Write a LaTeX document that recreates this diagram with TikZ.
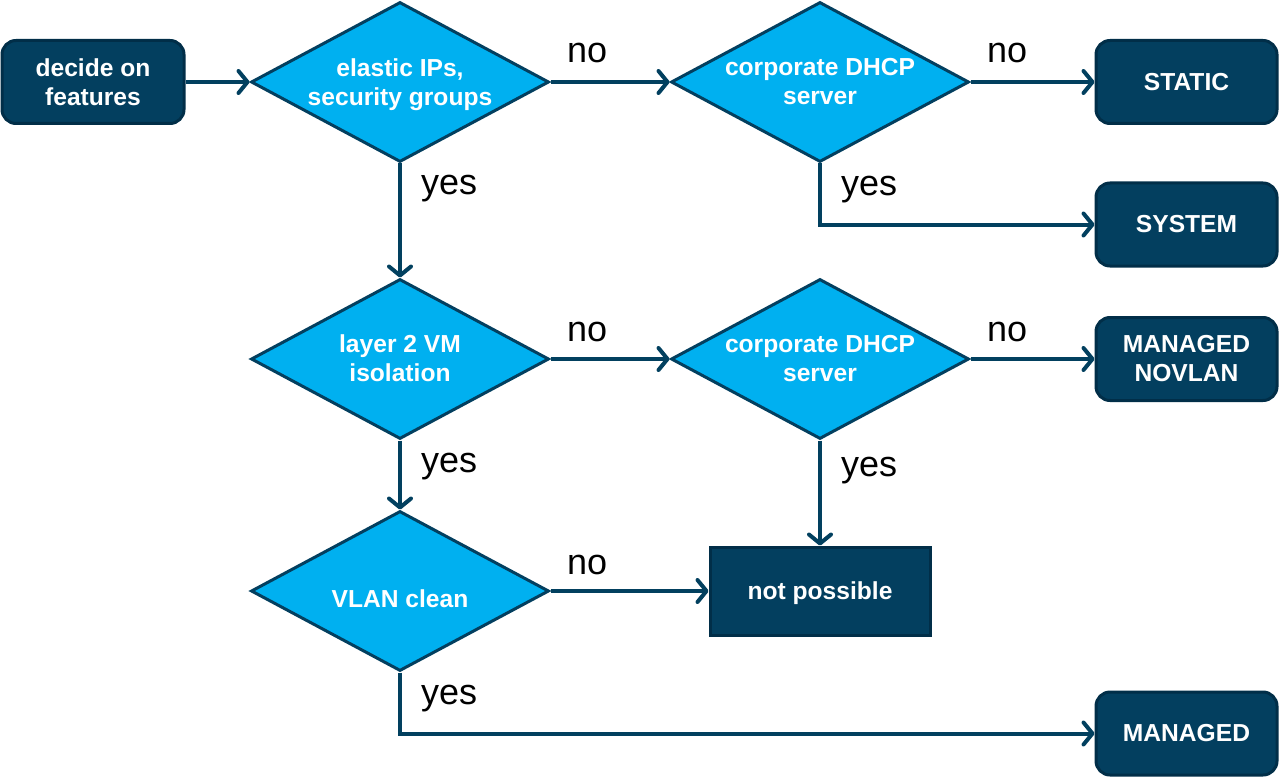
\documentclass[tikz,border=0pt]{standalone}
\usepackage{fontspec}
\setmainfont{Liberation Sans}
\usetikzlibrary{shapes.geometric,arrows.meta}
\definecolor{boxfill}{HTML}{033F5F}
\definecolor{boxline}{HTML}{012E48}
\definecolor{dfill}{HTML}{00B0F0}
\definecolor{dline}{HTML}{033F5F}
\definecolor{arrowc}{HTML}{02405F}
\newcommand{\lowr}[2]{\raisebox{-#1}[\height][\depth]{\begin{tabular}{@{}c@{}}#2\end{tabular}}}
\tikzset{
  boxnode/.style={draw=boxline, line width=3pt, fill=boxfill, text=white, rounded corners=14pt,
    font=\fontsize{24.6}{29}\selectfont\bfseries, align=center, inner sep=0pt},
  sqbox/.style={boxnode, rounded corners=0pt},
  decision/.style={diamond, draw=dline, line width=3pt, fill=dfill, text=white, aspect=1.86,
    minimum width=298pt, minimum height=160pt, inner sep=0pt,
    font=\fontsize{24.6}{29}\selectfont\bfseries, align=center},
  lbl/.style={font=\fontsize{36}{40}\selectfont, text=black, inner sep=0pt, anchor=base west},
  conn/.style={draw=arrowc, line width=4pt, -{Straight Barb[length=9pt,width=22pt,round]}}
}
\begin{document}
\begin{tikzpicture}[x=1pt,y=-1pt]
\useasboundingbox (0,0) rectangle (1279,778);
\node[boxnode, minimum width=182pt, minimum height=83pt] (start) at (93,82) {decide on\\features};
\node[decision] (d1) at (400,82) {\lowr{3pt}{elastic IPs,\\security groups}};
\node[decision] (d2) at (820,82) {corporate DHCP\\server};
\node[boxnode, minimum width=181pt, minimum height=83pt] (static) at (1186.5,82) {STATIC};
\node[boxnode, minimum width=181pt, minimum height=83pt] (system) at (1186.5,224.5) {SYSTEM};
\node[decision] (d3) at (400,359) {\lowr{2pt}{layer 2 VM\\isolation}};
\node[decision] (d4) at (820,359) {corporate DHCP\\server};
\node[boxnode, minimum width=181pt, minimum height=83pt] (novlan) at (1186.5,359) {MANAGED\\NOVLAN};
\node[decision] (d5) at (400,591) {\lowr{11pt}{VLAN clean}};
\node[sqbox, minimum width=220pt, minimum height=88pt] (np) at (820,591) {\lowr{3pt}{not possible}};
\node[boxnode, minimum width=181pt, minimum height=83pt] (managed) at (1186.5,733.5) {MANAGED};

\draw[conn] (start.east) -- (d1.west);
\draw[conn] (d1.east) -- (d2.west);
\draw[conn] (d2.east) -- (static.west);
\draw[conn] (d2.south) |- (system.west);
\draw[conn] (d1.south) -- (d3.north);
\draw[conn] (d3.east) -- (d4.west);
\draw[conn] (d4.east) -- (novlan.west);
\draw[conn] (d3.south) -- (d5.north);
\draw[conn] (d4.south) -- (np.north);
\draw[conn] (d5.east) -- (np.west);
\draw[conn] (d5.south) |- (managed.west);

\node[lbl] (l1) at (567,63) {no};
\node[lbl] (l2) at (987,63) {no};
\node[lbl] (l3) at (421,195) {yes};
\node[lbl] (l4) at (841,196) {yes};
\node[lbl] (l5) at (567,341) {no};
\node[lbl] (l6) at (987,341) {no};
\node[lbl] (l7) at (421,472) {yes};
\node[lbl] (l8) at (841,476) {yes};
\node[lbl] (l9) at (567,574) {no};
\node[lbl] (l10) at (421,704) {yes};
\end{tikzpicture}
\end{document}
